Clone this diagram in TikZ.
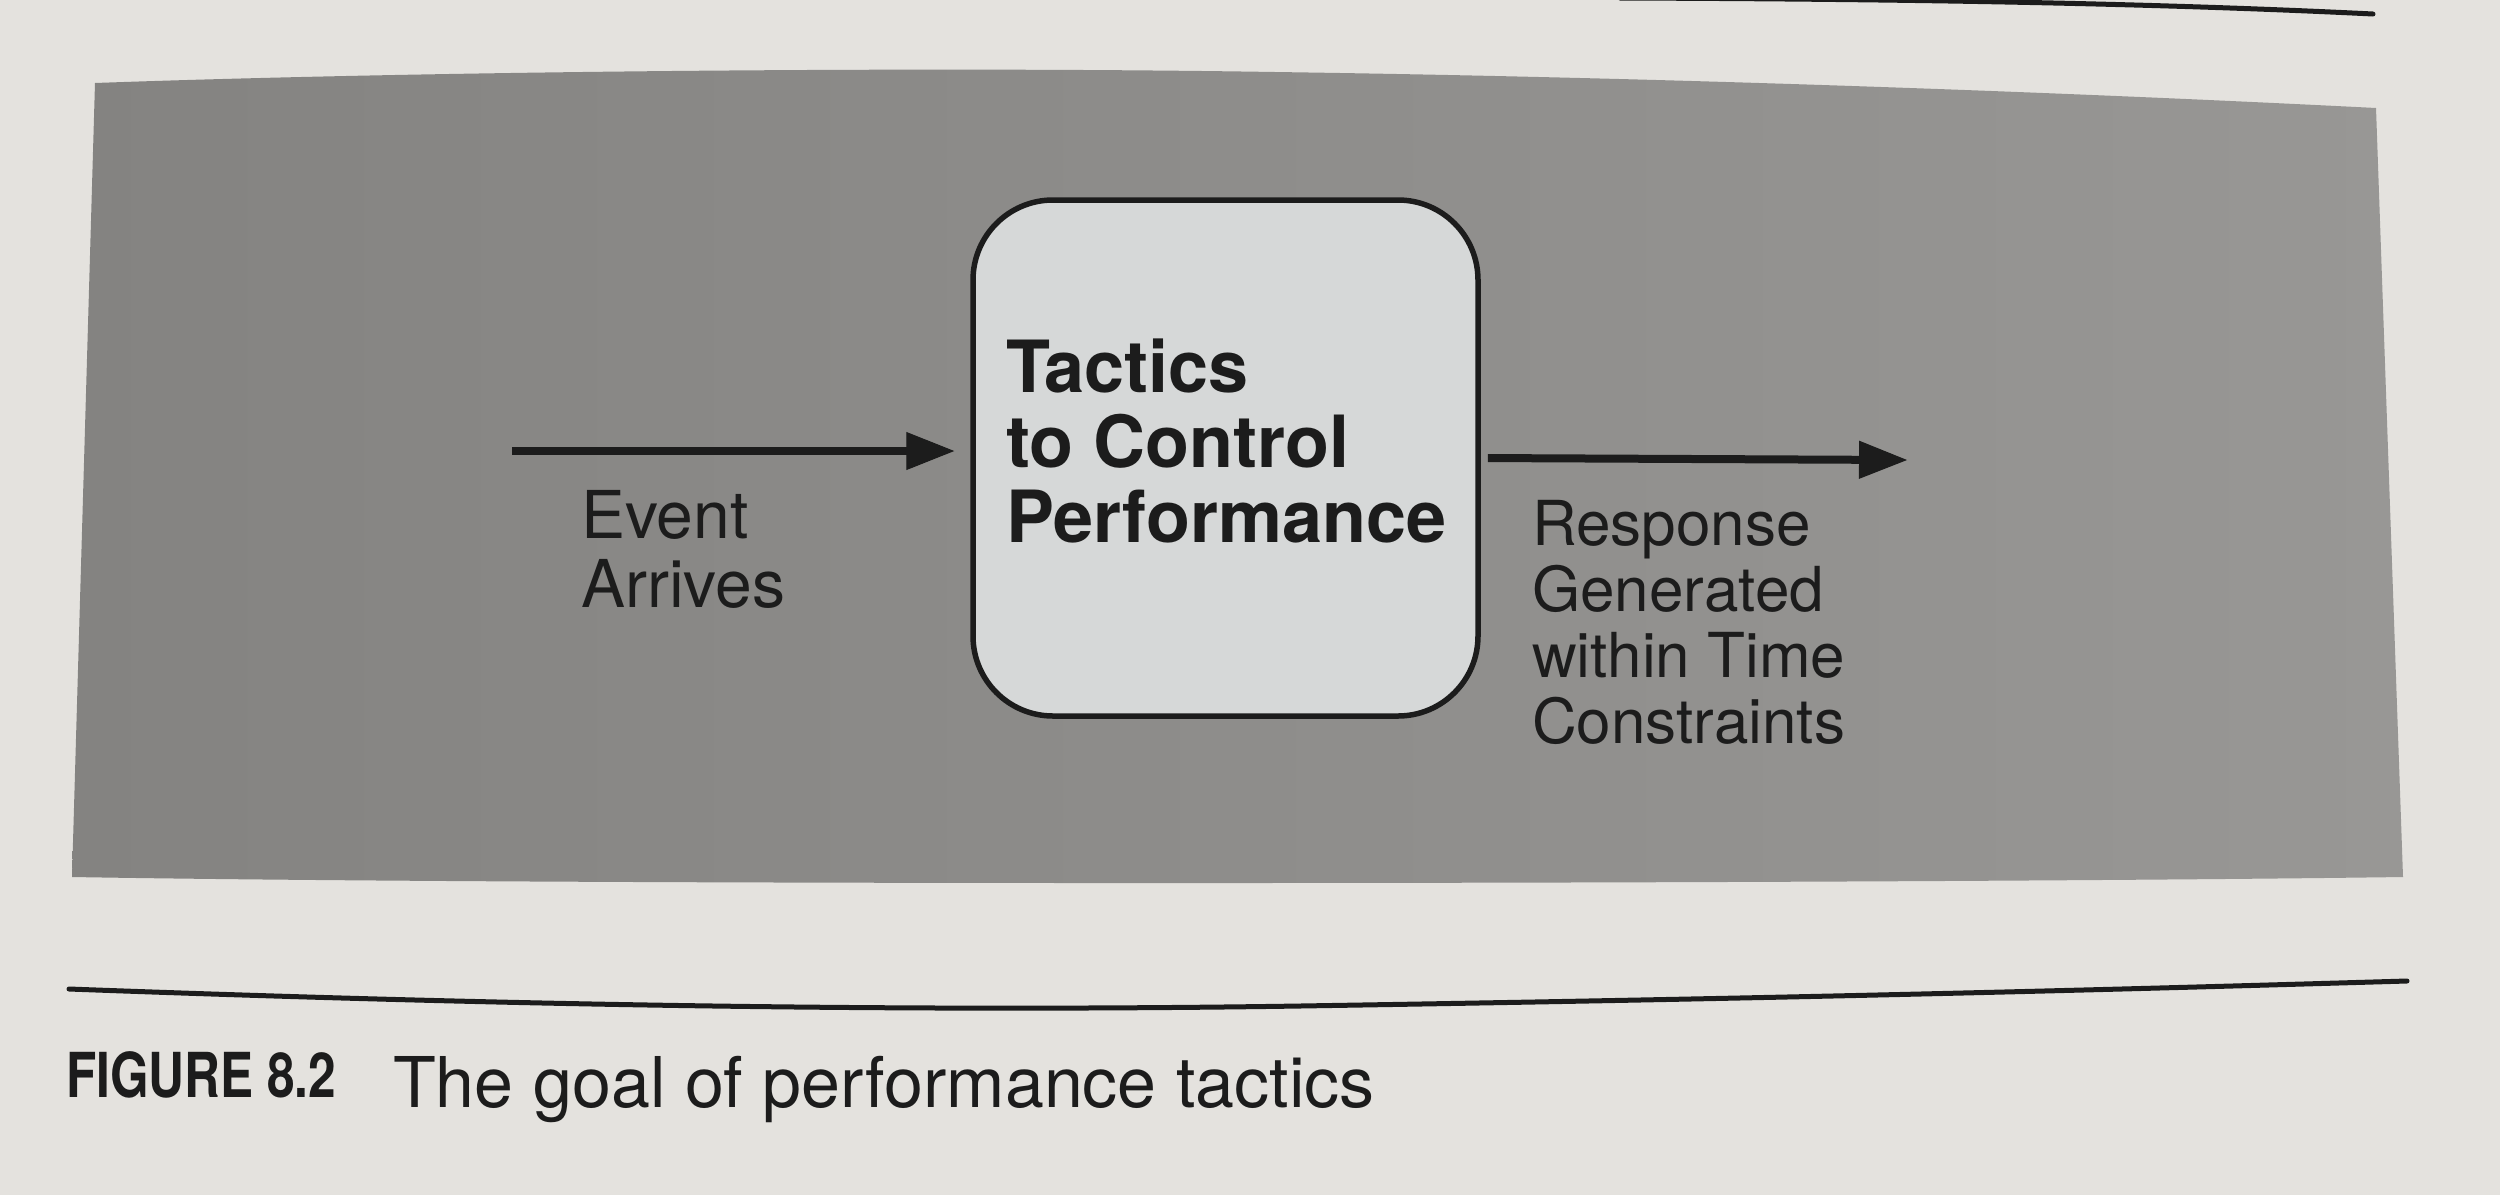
\documentclass[tikz,border=0pt]{standalone}
\usepackage{fontspec}
\setmainfont{TeX Gyre Heros}
\usepackage{graphicx}
\usetikzlibrary{arrows.meta}
\definecolor{pagecol}{RGB}{228,226,222}
\definecolor{grayL}{RGB}{132,131,129}
\definecolor{grayR}{RGB}{152,151,149}
\definecolor{boxfill}{RGB}{214,216,216}
\definecolor{inkc}{RGB}{28,28,28}
\tikzset{
  tacticbox/.style={draw=inkc, line width=5.5pt, fill=boxfill, rounded corners=80pt,
    minimum width=505pt, minimum height=516pt, inner sep=0pt},
  flow/.style={draw=inkc, line width=8pt,
    -{Triangle[length=48pt,width=38pt,line width=1pt]}},
  lbl/.style={text=inkc, inner sep=0pt, anchor=base west},
  rulestroke/.style={draw=inkc, line width=5pt, line cap=round}
}
\begin{document}
\begin{tikzpicture}[x=1pt,y=-1pt]
\useasboundingbox (0,0) rectangle (2500,1195);
\fill[pagecol] (0,0) rectangle (2500,1195);
% gray panel
\shade[left color=grayL, right color=grayR]
  (95,83) .. controls (400,72) and (900,66) .. (1275,72)
  .. controls (1700,78) and (2100,94) .. (2376,108)
  -- (2403,877) .. controls (1900,884) and (600,886) .. (72,877) -- cycle;
% top-right rule
\draw[rulestroke] (1620,-2) .. controls (1900,-1) and (2150,3) .. (2373,14);
% box
\node[tacticbox] (box) at (1225.5,458) {};
\node[lbl, font=\bfseries\fontsize{72}{75}\selectfont] (boxtext) at (1006,392)
  {\begin{tabular}[t]{@{}l@{}}Tactics\\to Control\\Performance\end{tabular}};
% arrows
\coordinate (evin) at (512,451);
\coordinate (resout) at (1907,460);
\draw[flow, shorten >=16pt] (evin) -- (box.west |- evin);
\draw[flow, shorten <=7pt] (box.east) -- (resout);
% labels
\node[lbl, font=\fontsize{66}{69}\selectfont] (event) at (581,538)
  {\begin{tabular}[t]{@{}l@{}}Event\\Arrives\end{tabular}};
\node[lbl, font=\fontsize{62}{66}\selectfont] (resp) at (1532,545)
  {\begin{tabular}[t]{@{}l@{}}Response\\Generated\\within Time\\Constraints\end{tabular}};
% bottom rule
\draw[rulestroke] (69,989) .. controls (500,1005) and (900,1012) .. (1300,1006)
  .. controls (1800,998) and (2100,990) .. (2407,981);
% caption
\node[lbl, font=\bfseries\fontsize{62}{66}\selectfont] (fignum) at (66,1097)
  {\scalebox{0.8}[1]{FIGURE 8.2}};
\node[lbl, font=\fontsize{70}{75}\selectfont] (figcap) at (393,1107)
  {The goal of performance tactics};
\end{tikzpicture}
\end{document}
